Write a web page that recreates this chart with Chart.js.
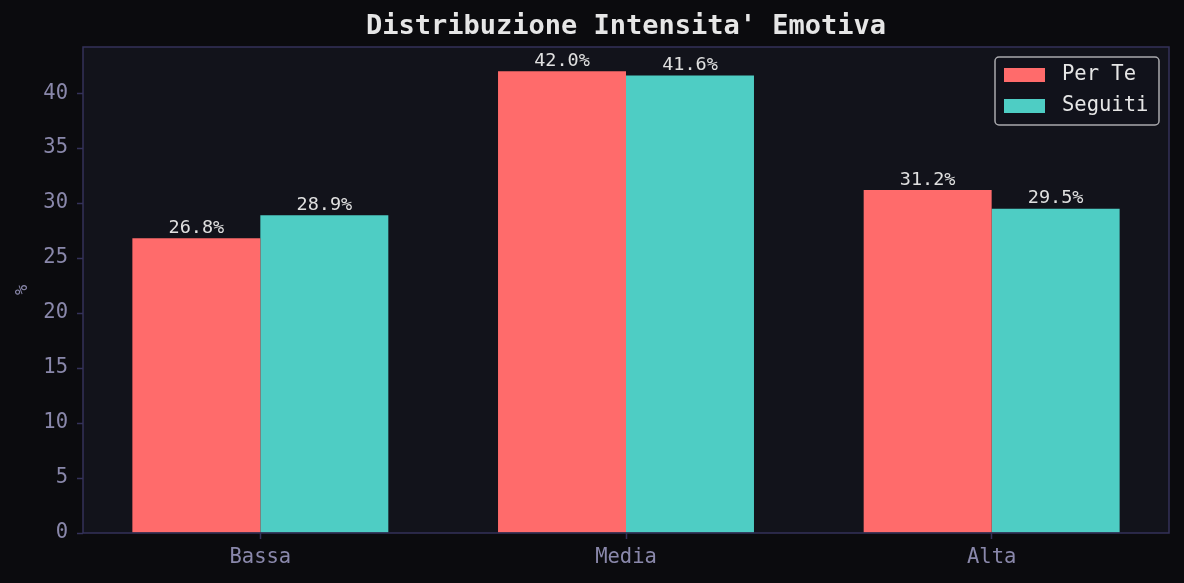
<!DOCTYPE html>
<html>
<head>
<meta charset="utf-8">
<script src="https://cdn.jsdelivr.net/npm/chart.js@4.4.1/dist/chart.umd.min.js"></script>
<style>
  html, body { margin: 0; padding: 0; background: #0b0b0e; }
  #wrap { width: 1184px; height: 583px; }
</style>
</head>
<body>
<div id="wrap"><canvas id="canvas"></canvas></div>
<script>
const categories = ["Bassa", "Media", "Alta"];
const perTe = [26.8, 42.0, 31.2];
const seguiti = [28.9, 41.6, 29.5];
const yTicks = [0, 5, 10, 15, 20, 25, 30, 35, 40];

const FONT = "'DejaVu Sans Mono', monospace";
const BG = "#0b0b0e";
const PLOT_BG = "#12131b";
const FRAME = "#34325a";
const TICK_TEXT = "#8a88ab";

// background, frame, title, bar labels and legend box
const decor = {
  id: "decor",
  beforeDraw(chart) {
    const { ctx, chartArea: a } = chart;
    ctx.save();
    ctx.fillStyle = BG;
    ctx.fillRect(0, 0, chart.width, chart.height);
    ctx.fillStyle = PLOT_BG;
    ctx.fillRect(a.left, a.top, a.right - a.left, a.bottom - a.top);
    ctx.restore();
  },
  afterDatasetsDraw(chart) {
    const { ctx, chartArea: a } = chart;
    ctx.save();
    ctx.strokeStyle = FRAME;
    ctx.lineWidth = 1.5;
    ctx.strokeRect(a.left, a.top, a.right - a.left, a.bottom - a.top);

    // title
    ctx.fillStyle = "#e6e6e6";
    ctx.font = "bold 27px " + FONT;
    ctx.textAlign = "center";
    ctx.textBaseline = "middle";
    ctx.fillText("Distribuzione Intensita' Emotiva", (a.left + a.right) / 2, 27);

    // values above bars
    ctx.font = "18.5px " + FONT;
    ctx.fillStyle = "#e0e0e0";
    ctx.textBaseline = "bottom";
    chart.data.datasets.forEach((ds, i) => {
      chart.getDatasetMeta(i).data.forEach((bar, j) => {
        ctx.fillText(ds.data[j].y.toFixed(1) + "%", bar.x, bar.y - 1);
      });
    });

    // legend
    const lx = a.right - 174, ly = a.top + 10, lw = 164, lh = 68;
    ctx.beginPath();
    ctx.roundRect(lx, ly, lw, lh, 4);
    ctx.fillStyle = "rgba(18,19,27,0.85)";
    ctx.fill();
    ctx.strokeStyle = "#a9a9ad";
    ctx.lineWidth = 1.5;
    ctx.stroke();
    ctx.font = "20.5px " + FONT;
    ctx.textAlign = "left";
    ctx.textBaseline = "middle";
    chart.data.datasets.forEach((ds, i) => {
      const cy = ly + 18 + i * 31;
      ctx.fillStyle = ds.backgroundColor;
      ctx.fillRect(lx + 9, cy - 7, 41, 14);
      ctx.fillStyle = "#e6e6e6";
      ctx.fillText(ds.label, lx + 67, cy);
    });
    ctx.restore();
  }
};

const ctx = document.getElementById("canvas").getContext("2d");
const myChart = new Chart(ctx, {
  type: "bar",
  data: {
    datasets: [
      {
        label: "Per Te",
        data: perTe.map((v, i) => ({ x: i, y: v })),
        backgroundColor: "#ff6b6b",
        borderWidth: 0,
      },
      {
        label: "Seguiti",
        data: seguiti.map((v, i) => ({ x: i, y: v })),
        backgroundColor: "#4ecdc4",
        borderWidth: 0,
      },
    ],
  },
  options: {
    responsive: true,
    maintainAspectRatio: false,
    animation: false,
    devicePixelRatio: 1,
    categoryPercentage: 0.7,
    barPercentage: 1.0,
    layout: { padding: { left: 0, top: 47, right: 15, bottom: 0 } },
    plugins: {
      legend: { display: false },
      title: { display: false },
      tooltip: { enabled: false },
    },
    scales: {
      x: {
        type: "linear",
        offset: false,
        min: -0.485,
        max: 2.485,
        afterBuildTicks: (scale) => {
          scale.ticks = categories.map((c, i) => ({ value: i }));
        },
        afterFit: (scale) => { scale.height = 50; },
        border: { display: false },
        grid: {
          offset: false,
          drawOnChartArea: false,
          drawTicks: true,
          tickLength: 6,
          tickWidth: 1.5,
          color: FRAME,
        },
        ticks: {
          color: TICK_TEXT,
          font: { family: FONT, size: 20.5 },
          padding: 6,
          maxRotation: 0,
          callback: (value) => categories[value],
        },
      },
      y: {
        min: 0,
        max: 44.2,
        afterBuildTicks: (scale) => {
          scale.ticks = yTicks.map((v) => ({ value: v }));
        },
        afterFit: (scale) => { scale.width = 83; },
        border: { display: false },
        grid: {
          drawOnChartArea: false,
          drawTicks: true,
          tickLength: 6,
          tickWidth: 1.5,
          color: FRAME,
        },
        ticks: {
          color: TICK_TEXT,
          font: { family: FONT, size: 20.5 },
          padding: 9,
        },
        title: {
          display: true,
          text: "%",
          color: TICK_TEXT,
          font: { family: FONT, size: 17 },
          padding: { top: 12, bottom: 0 },
        },
      },
    },
  },
  plugins: [decor],
});
</script>
</body>
</html>
